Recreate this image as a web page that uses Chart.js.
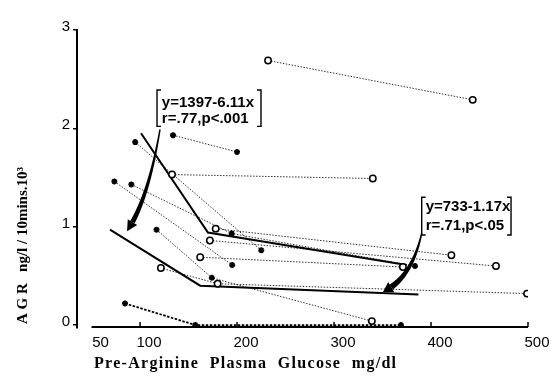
<!DOCTYPE html>
<html>
<head>
<meta charset="utf-8">
<script src="https://cdn.jsdelivr.net/npm/chart.js@4.4.0/dist/chart.umd.min.js"></script>
<style>
  html, body { margin: 0; padding: 0; background: #fff; }
  #wrap { width: 552px; height: 377px; }
</style>
</head>
<body>
<div id="wrap"><canvas id="agrChart" width="552" height="377"></canvas></div>
<script>
// Pre-arginine glucose (mg/dl) vs AGR (ng/l / 10 mins x 10^3), points of one subject joined by a dotted line
var pairGlucose = [
    [232, 443],
    [134, 200],
    [133, 340],
    [95, 225],
    [73.5, 195],
    [91, 194.5, 383.5],
    [178, 421],
    [172, 467],
    [162, 371],
    [117, 174, 339],
    [121.5, 180, 499]
];
var pairAgr = [
    [2.69, 2.29],
    [1.93, 1.76],
    [1.53, 1.49],
    [1.86, 0.76],
    [1.46, 0.61],
    [1.43, 0.93, 0.60],
    [0.98, 0.71],
    [0.86, 0.60],
    [0.69, 0.59],
    [0.97, 0.48, 0.04],
    [0.58, 0.42, 0.32]
];
// 'o' = open circle, '*' = star
var pairSymbol = [
    ['o', 'o'],
    ['*', '*'],
    ['o', 'o'],
    ['*', '*'],
    ['*', '*'],
    ['*', '*', '*'],
    ['o', 'o'],
    ['o', 'o'],
    ['o', 'o'],
    ['*', '*', 'o'],
    ['o', 'o', 'o']
];

// subject lying on the baseline
var baselineGlucose = [84.5, 157, 369];
var baselineAgr = [0.22, 0.0, 0.0];

// the two broken regression lines
var fitUpperGlucose = [101, 170, 375];
var fitUpperAgr = [1.95, 0.94, 0.61];
var fitLowerGlucose = [69, 162, 387];
var fitLowerAgr = [0.97, 0.40, 0.31];

var fitLabels = [
    ['y=1397-6.11x', 'r=.77,p<.001'],
    ['y=733-1.17x', 'r=.71,p<.05']
];

var xTicks = [50, 100, 200, 300, 400, 500];
var yTicks = [0, 1, 2, 3];

function pts(gArr, aArr) {
    return gArr.map(function (g, i) { return { x: g, y: aArr[i] }; });
}

var datasets = [];

pairGlucose.forEach(function (g, i) {
    var styles = pairSymbol[i].map(function (s) { return s === 'o' ? 'circle' : 'star'; });
    datasets.push({
        data: pts(g, pairAgr[i]),
        showLine: true,
        tension: 0,
        borderColor: 'rgba(0,0,0,0.8)',
        borderWidth: 1,
        borderDash: [1.5, 1.5],
        pointStyle: styles,
        pointRadius: styles.map(function (s) { return s === 'circle' ? 3.2 : 3; }),
        pointBorderWidth: styles.map(function (s) { return s === 'circle' ? 1.5 : 1.8; }),
        pointBackgroundColor: styles.map(function (s) { return s === 'circle' ? '#fff' : '#000'; }),
        pointBorderColor: '#000',
        order: 0
    });
});

datasets.push({
    data: pts(baselineGlucose, baselineAgr),
    showLine: true,
    borderColor: '#000',
    borderWidth: 1.8,
    borderDash: [2.5, 1.5],
    pointStyle: 'star',
    pointRadius: 3,
    pointBorderWidth: 1.8,
    pointBorderColor: '#000',
    order: 0
});

[[fitUpperGlucose, fitUpperAgr], [fitLowerGlucose, fitLowerAgr]].forEach(function (f) {
    datasets.push({
        data: pts(f[0], f[1]),
        showLine: true,
        borderColor: '#000',
        borderWidth: 2,
        pointRadius: 0,
        order: 1
    });
});

// annotation placement, in glucose / AGR units
var boxes = [
    { left: 117.5, right: 224.7, top: 2.39, bottom: 2.02, textX: 122.5, lines: [2.255, 2.10] },
    { left: 390.4, right: 482.5, top: 1.30, bottom: 0.915, textX: 394.5, lines: [1.205, 1.01] }
];
var arrows = [
    { p0: [120.6, 1.99], c: [108.2, 1.27], p2: [86.6, 0.955], w0: 1.4, w1: 5, headLen: 10, headW: 11 },
    { p0: [390.4, 0.935], c: [380.4, 0.48], p2: [350.5, 0.336], w0: 1.4, w1: 6, headLen: 9, headW: 12 }
];

function taperArrow(ctx, p0, c, p2, w0, w1, headLen, headW) {
    function at(t) {
        var u = 1 - t;
        return { x: u * u * p0.x + 2 * u * t * c.x + t * t * p2.x, y: u * u * p0.y + 2 * u * t * c.y + t * t * p2.y };
    }
    function der(t) {
        return { x: 2 * (1 - t) * (c.x - p0.x) + 2 * t * (p2.x - c.x), y: 2 * (1 - t) * (c.y - p0.y) + 2 * t * (p2.y - c.y) };
    }
    var n = 60, samples = [];
    for (var i = 0; i <= n; i++) samples.push(at(i / n));
    // stop the shaft where the head begins
    var k = n;
    while (k > 0 && Math.hypot(p2.x - samples[k].x, p2.y - samples[k].y) < headLen) k--;
    var tEnd = k / n, left = [], right = [];
    for (var j = 0; j <= k; j++) {
        var t = j / n, p = samples[j], d = der(t), len = Math.hypot(d.x, d.y) || 1;
        var w = (w0 + (w1 - w0) * (t / tEnd)) / 2;
        left.push({ x: p.x - d.y / len * w, y: p.y + d.x / len * w });
        right.push({ x: p.x + d.y / len * w, y: p.y - d.x / len * w });
    }
    ctx.beginPath();
    ctx.moveTo(left[0].x, left[0].y);
    left.forEach(function (q) { ctx.lineTo(q.x, q.y); });
    for (var r = right.length - 1; r >= 0; r--) ctx.lineTo(right[r].x, right[r].y);
    ctx.closePath();
    ctx.fill();
    // head
    var b = samples[k], dx = p2.x - b.x, dy = p2.y - b.y, dl = Math.hypot(dx, dy) || 1;
    var nx = -dy / dl * headW / 2, ny = dx / dl * headW / 2;
    ctx.beginPath();
    ctx.moveTo(b.x + nx, b.y + ny);
    ctx.lineTo(p2.x, p2.y);
    ctx.lineTo(b.x - nx, b.y - ny);
    ctx.closePath();
    ctx.fill();
}

var overlay = {
    id: 'overlay',
    afterDraw: function (chart) {
        var ctx = chart.ctx, xs = chart.scales.x, ys = chart.scales.y, area = chart.chartArea;
        function px(g) { return xs.getPixelForValue(g); }
        function py(a) { return ys.getPixelForValue(a); }
        ctx.save();
        ctx.strokeStyle = '#000';
        ctx.fillStyle = '#000';

        // x axis, from 50 to 500, with inward ticks
        var yb = area.bottom - 1;
        ctx.lineWidth = 2;
        ctx.beginPath();
        ctx.moveTo(px(xTicks[0]), yb);
        ctx.lineTo(px(xTicks[xTicks.length - 1]), yb);
        ctx.stroke();
        ctx.lineWidth = 1.5;
        xTicks.slice(1).forEach(function (v) {
            ctx.beginPath();
            ctx.moveTo(px(v), yb);
            ctx.lineTo(px(v), yb - 5);
            ctx.stroke();
        });

        // axis titles
        ctx.font = 'bold 16px "Liberation Serif"';
        ctx.textBaseline = 'middle';
        ctx.textAlign = 'left';
        if ('letterSpacing' in ctx) ctx.letterSpacing = '1.3px';
        ctx.fillText('Pre-Arginine  Plasma  Glucose  mg/dl', area.left + 17, area.bottom + 36);
        if ('letterSpacing' in ctx) ctx.letterSpacing = '0px';
        ctx.font = 'bold 15px "Liberation Serif"';
        ctx.save();
        ctx.translate(23, area.bottom - 4);
        ctx.rotate(-Math.PI / 2);
        ctx.fillText('A G R   ng/l / 10mins.10\u00B3', 0, 0);
        ctx.restore();

        // regression equations in square brackets
        ctx.lineWidth = 1.4;
        ctx.font = 'bold 15px "Liberation Sans"';
        boxes.forEach(function (b, i) {
            var l = px(b.left), r = px(b.right), t = py(b.top), bo = py(b.bottom);
            ctx.beginPath();
            ctx.moveTo(l + 4, t); ctx.lineTo(l, t); ctx.lineTo(l, bo); ctx.lineTo(l + 4, bo);
            ctx.moveTo(r - 4, t); ctx.lineTo(r, t); ctx.lineTo(r, bo); ctx.lineTo(r - 4, bo);
            ctx.stroke();
            ctx.fillText(fitLabels[i][0], px(b.textX), py(b.lines[0]));
            ctx.fillText(fitLabels[i][1], px(b.textX), py(b.lines[1]));
        });

        // curved arrows pointing at the fits
        arrows.forEach(function (a) {
            taperArrow(ctx,
                { x: px(a.p0[0]), y: py(a.p0[1]) },
                { x: px(a.c[0]), y: py(a.c[1]) },
                { x: px(a.p2[0]), y: py(a.p2[1]) },
                a.w0, a.w1, a.headLen, a.headW);
        });
        ctx.restore();
    }
};

var ctx = document.getElementById('agrChart').getContext('2d');

new Chart(ctx, {
    type: 'line',
    data: { datasets: datasets },
    plugins: [overlay],
    options: {
        responsive: false,
        animation: false,
        devicePixelRatio: 1,
        layout: { padding: { left: 0, right: 24, top: 30, bottom: 24 } },
        plugins: { legend: { display: false }, tooltip: { enabled: false } },
        elements: { line: { tension: 0 } },
        scales: {
            x: {
                type: 'linear',
                min: 35,
                max: 500,
                afterBuildTicks: function (s) { s.ticks = xTicks.map(function (v) { return { value: v }; }); },
                afterFit: function (s) { s.height = 25; },
                grid: { display: false, drawTicks: false },
                border: { display: false },
                ticks: {
                    color: '#000',
                    font: { family: 'Liberation Sans', size: 15 },
                    padding: 6,
                    labelOffset: 9,
                    maxRotation: 0,
                    autoSkip: false
                }
            },
            y: {
                type: 'linear',
                min: -0.03,
                max: 3,
                afterBuildTicks: function (s) { s.ticks = yTicks.map(function (v) { return { value: v }; }); },
                afterFit: function (s) { s.width = 77; },
                grid: { display: true, drawOnChartArea: false, drawTicks: true, tickLength: 4, color: '#000', lineWidth: 1.5 },
                border: { display: true, color: '#000', width: 2 },
                ticks: {
                    color: '#000',
                    font: { family: 'Liberation Sans', size: 15 },
                    padding: 3,
                    labelOffset: -3
                }
            }
        }
    }
});
</script>
</body>
</html>
